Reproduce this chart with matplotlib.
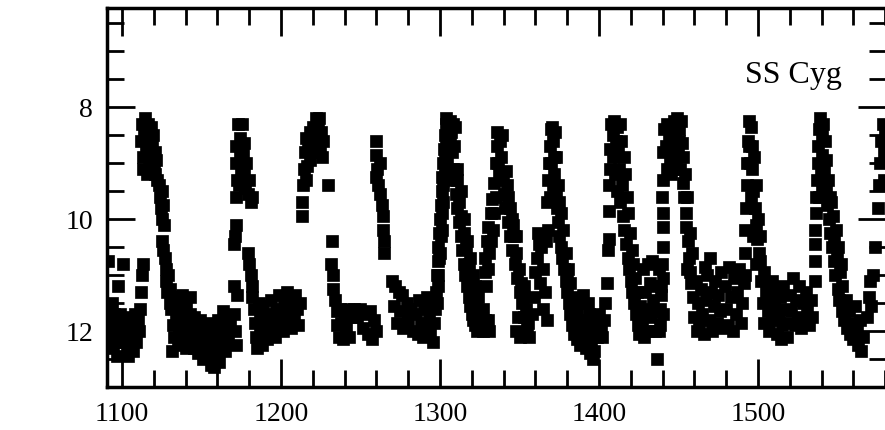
import matplotlib
matplotlib.use("Agg")
import matplotlib.pyplot as plt
from matplotlib.ticker import MultipleLocator

plt.rcParams["font.family"] = ["Liberation Serif", "DejaVu Serif"]

# SS Cyg light curve (JD - 2450000, visual mag)
low0 = [(1091, 10.75), (1091, 11.6), (1091.5, 12.0), (1092, 12.2), (1092.5, 11.8), (1093, 12.1),
        (1093.5, 11.5), (1094, 11.9), (1094.5, 12.3), (1095, 11.7), (1095.5, 12.0), (1096, 12.2),
        (1096.5, 11.85), (1097.5, 11.2), (1097, 12.45), (1098, 12.0), (1098.5, 11.7), (1099, 12.15),
        (1100, 11.9), (1100.6, 10.8), (1101, 12.2), (1101.5, 11.75), (1102, 12.05), (1103, 12.3),
        (1103.5, 11.9), (1104, 12.45), (1104.5, 12.1), (1105, 11.8), (1106, 12.2), (1106.5, 11.95),
        (1107, 12.35), (1108, 12.0), (1108.5, 11.7), (1109, 12.2), (1110, 11.8), (1113, 10.8)]

burst1 = [(1111, 12.0), (1111.5, 11.6), (1112, 11.3), (1112.5, 11.0),
          (1112, 8.6), (1112.5, 8.3), (1113, 8.9), (1113, 9.1), (1114, 8.5), (1114.5, 8.2),
          (1115, 8.7), (1115.5, 8.45), (1116, 9.2), (1116.5, 8.3), (1117, 8.9), (1117.5, 8.6),
          (1118, 8.35), (1118.5, 9.0), (1119, 8.7), (1119.5, 8.5), (1120, 9.05), (1120.5, 8.8),
          (1121, 9.2), (1121.5, 8.95), (1122, 9.3), (1123, 9.4), (1124, 9.6), (1124.5, 9.8),
          (1125, 9.5), (1125.5, 10.0), (1126, 9.75), (1126.5, 10.1), (1125, 10.4), (1126, 10.55),
          (1127, 10.7), (1127.5, 10.9), (1128, 11.1), (1128.5, 11.3), (1129, 11.0), (1130, 11.5),
          (1130.5, 11.25)]

low1 = [(1131, 11.6), (1131.5, 12.35), (1132, 11.9), (1133, 12.1), (1133.5, 11.4), (1134, 11.75),
        (1135, 12.2), (1135.5, 11.5), (1136, 11.95), (1137, 12.25), (1137.5, 11.35), (1138, 11.7),
        (1139, 12.05), (1140, 11.55), (1140.5, 12.3), (1141, 11.85), (1142, 12.1), (1142.5, 11.4),
        (1143, 11.7), (1144, 12.0), (1145, 12.3), (1145.5, 11.75), (1146, 12.15), (1147, 11.9),
        (1148, 12.4), (1148.5, 12.05), (1149, 11.8), (1150, 12.2), (1151, 12.5), (1151.5, 11.95),
        (1152, 12.3), (1153, 12.1), (1154, 12.45), (1154.5, 11.85), (1155, 12.2), (1156, 12.6),
        (1157, 12.35), (1157.5, 12.0), (1158, 12.65), (1159, 12.45), (1160, 12.2), (1160.5, 11.8),
        (1161, 12.55), (1162, 12.3), (1163, 12.1), (1163.5, 11.65), (1164, 11.9), (1165, 12.35),
        (1165.5, 12.05), (1166, 11.75), (1167, 12.2), (1168, 11.9), (1170.5, 11.7), (1171, 12.0),
        (1171.5, 12.25)]

burst2 = [(1170.5, 11.2), (1171, 10.3), (1170.5, 10.45), (1171.5, 9.0), (1171.5, 9.6), (1172, 8.7),
          (1172.5, 9.3), (1173, 8.3), (1173.5, 9.4), (1174, 8.9), (1174.5, 8.55), (1175, 9.1),
          (1175.5, 8.3), (1176, 8.8), (1176.5, 9.2), (1177, 8.65), (1177.5, 9.45), (1178, 9.0),
          (1179, 9.55), (1180, 9.3), (1181, 9.7), (1182, 9.6), (1172, 10.1), (1172.5, 11.35)]

low2 = [(1179, 10.6), (1180, 10.8), (1181, 11.0), (1181.5, 11.2), (1182, 11.4), (1183, 11.6),
        (1183.5, 11.85), (1184, 12.1), (1185, 12.3), (1186, 11.5), (1186.5, 12.0), (1187, 11.75),
        (1188, 12.25), (1189, 11.55), (1190, 11.9), (1191, 12.15), (1192, 11.7), (1193, 12.0),
        (1194, 11.45), (1195, 11.8), (1196, 12.1), (1197, 11.6), (1198, 11.9), (1199, 11.35),
        (1200, 11.7), (1201, 12.0), (1202, 11.5), (1203, 11.8), (1204, 11.3), (1205, 11.65),
        (1206, 11.95), (1207, 11.45), (1208, 11.75), (1209, 11.35), (1210, 11.6), (1211, 11.9),
        (1212, 11.5)]

burst3 = [(1213, 9.7), (1213.5, 9.95), (1214, 9.4), (1214.5, 9.1), (1215, 8.8), (1215.5, 9.3),
          (1216, 8.55), (1216.5, 9.05), (1217, 8.75), (1218, 8.45), (1218.5, 8.95), (1219, 8.6),
          (1220, 8.35), (1220.5, 8.8), (1221, 8.5), (1222, 8.2), (1222.5, 8.65), (1223, 8.4),
          (1224, 8.2), (1224.5, 8.7), (1225, 8.45), (1226, 8.9), (1226.5, 8.6), (1229.5, 9.4),
          (1232, 10.4), (1231.5, 10.8), (1232.5, 11.0), (1233, 11.25), (1234, 11.45), (1235, 11.65),
          (1235.5, 11.9), (1236.5, 12.1), (1237, 11.6), (1238, 11.85), (1239, 12.15), (1240, 11.7),
          (1241, 11.95), (1242, 11.6), (1243, 12.1), (1244, 11.75), (1246, 11.6), (1248, 11.75),
          (1250, 11.6), (1251.5, 11.95), (1253, 11.7), (1254.5, 12.05), (1256, 11.65), (1257, 12.15),
          (1258.5, 11.8), (1259.5, 12.0)]

burst4 = [(1259.5, 8.6), (1260, 8.85), (1260.5, 9.1), (1260, 9.25), (1261, 9.4), (1262, 9.0),
          (1262.5, 9.55), (1263.5, 9.75), (1264, 9.95), (1264, 10.2), (1264.5, 10.4), (1265, 10.6),
          (1270, 11.1), (1272, 11.2), (1274, 11.3), (1276, 11.35), (1271, 11.55), (1273, 11.85),
          (1275, 11.65), (1277, 11.95), (1279, 11.5), (1280, 11.8), (1282, 11.6), (1283, 12.0),
          (1285, 11.7), (1286, 12.05), (1287, 11.45), (1288, 11.85), (1289, 12.1), (1290, 11.6),
          (1291, 11.9), (1292, 11.4), (1293, 11.75), (1294, 12.0), (1295, 11.55), (1295.5, 12.2),
          (1296, 11.85)]

burst5 = [(1297, 11.6), (1297.5, 11.3), (1298, 11.0), (1298.5, 10.75), (1299, 10.5), (1299.5, 10.25),
          (1300, 10.0), (1300.5, 9.75), (1301, 9.5), (1301.5, 9.25), (1302, 9.0), (1302.5, 8.75),
          (1303, 8.5), (1303.5, 8.3), (1304, 8.2), (1298.5, 11.2), (1299.5, 10.7), (1300.5, 10.3),
          (1301, 9.9), (1302, 9.4), (1303, 8.9), (1304, 8.6), (1305, 8.35), (1306, 8.25),
          (1307, 8.45), (1308, 8.3), (1309.5, 8.35), (1305.5, 8.7), (1307.5, 8.8), (1308, 9.1),
          (1309, 9.3), (1310, 9.55), (1311, 9.8), (1312, 10.05), (1313, 10.3), (1314, 10.55),
          (1315, 10.8), (1316, 11.0), (1317, 11.2), (1318, 11.4), (1319, 11.55), (1320, 11.7),
          (1321, 11.8), (1322, 11.9), (1323.5, 12.0), (1325, 11.95), (1327, 12.0), (1329, 11.95),
          (1331, 12.0), (1310.5, 9.3), (1312, 9.7), (1313.5, 9.95), (1315, 10.25), (1316.5, 10.5),
          (1318, 10.8), (1319.5, 11.05), (1321, 11.3), (1322.5, 11.5), (1324, 11.65), (1325.5, 11.75),
          (1327, 11.6), (1328.5, 11.8), (1298, 11.5), (1299, 11.0), (1300, 10.6), (1301, 10.2),
          (1302, 9.7), (1303, 9.2), (1304.5, 8.9), (1306, 8.6), (1309, 8.7), (1311, 9.1),
          (1313, 9.5), (1315, 10.0), (1317, 10.4), (1319, 10.7), (1320.5, 11.0), (1322, 11.2),
          (1324, 11.4), (1326, 11.9), (1330, 11.8)]

burst6 = [(1328, 10.95), (1328.5, 10.7), (1329, 11.2), (1329.5, 10.4), (1330.5, 10.15), (1331, 10.6),
          (1332, 9.9), (1333, 9.65), (1333.5, 10.2), (1334, 9.35), (1335, 9.0), (1335.5, 9.6),
          (1336, 8.7), (1336, 8.45), (1337, 9.2), (1338, 8.6), (1338.5, 8.9), (1339.5, 9.3),
          (1340, 9.55), (1341, 9.8), (1341.5, 9.15), (1342.5, 10.05), (1343, 9.6), (1344, 10.3),
          (1345, 10.0), (1345.5, 10.55), (1346.5, 10.3), (1347, 10.8), (1348, 10.6), (1348.5, 11.05),
          (1349.5, 10.9), (1350, 11.3), (1351, 11.15), (1351.5, 11.5), (1352.5, 11.4), (1353, 11.75),
          (1354, 11.6), (1354.5, 11.95), (1355.5, 11.85), (1347.5, 12.0), (1349, 11.75), (1350.5, 12.1),
          (1352, 12.05), (1356, 12.1), (1330, 10.9), (1332, 10.4), (1334, 9.9), (1336.5, 9.0),
          (1339, 8.5), (1342, 9.4), (1344, 9.8), (1346, 10.1), (1348, 10.3), (1353, 11.2)]

burst7 = [(1358, 11.7), (1359, 11.4), (1360, 10.95), (1361, 10.7), (1361.5, 10.25), (1362, 10.45),
          (1363, 11.15), (1363.5, 10.5), (1364.5, 11.6), (1365, 10.9), (1366, 11.3), (1366.5, 10.4),
          (1367, 11.8), (1367.5, 9.7), (1368, 9.3), (1368.5, 9.0), (1369, 8.7), (1369.5, 8.4),
          (1370.5, 8.35), (1371, 8.6), (1371.5, 8.9), (1372, 9.2), (1372.5, 8.45), (1373, 9.5),
          (1373.5, 9.8), (1374, 10.05), (1375, 10.3), (1376, 10.5), (1377, 10.7), (1378, 10.9),
          (1379, 11.1), (1380, 11.3), (1381, 11.5), (1382, 11.7), (1383, 11.9), (1384, 12.05),
          (1385, 11.8), (1386, 12.15), (1387, 11.95), (1388, 12.25), (1389, 11.5), (1389.5, 12.1),
          (1390, 11.35), (1391, 11.8), (1392, 12.3), (1393, 12.0), (1394, 11.7), (1395, 12.2),
          (1396, 12.5), (1397, 12.35), (1398, 11.9), (1399, 12.1), (1400, 11.7), (1401, 12.0),
          (1374.5, 9.4), (1376, 9.9), (1377.5, 10.2), (1379, 10.6), (1380.5, 10.9), (1382, 11.15),
          (1383.5, 11.4), (1385, 11.55), (1368, 10.2), (1369, 9.6), (1370, 9.0), (1371, 9.4),
          (1373, 8.9), (1375, 9.7), (1380, 11.0), (1386, 11.6), (1388, 11.8), (1391, 12.2),
          (1393, 11.5), (1394.5, 12.4)]

burst8 = [(1402, 12.1), (1403, 11.8), (1404, 11.5), (1405, 11.15), (1405.5, 10.55), (1406, 10.35),
          (1406, 9.85), (1406.5, 9.4), (1407, 9.1), (1407, 8.75), (1407.5, 8.3), (1408.5, 8.5),
          (1409, 8.9), (1409.5, 8.25), (1410, 9.2), (1410.5, 8.6), (1411, 8.35), (1411.5, 9.5),
          (1412, 8.8), (1412.5, 9.1), (1413, 8.3), (1413.5, 9.7), (1414, 8.6), (1414.5, 9.4),
          (1415, 9.95), (1415.5, 8.9), (1416, 10.2), (1416.5, 9.2), (1417, 10.45), (1417.5, 9.6),
          (1418, 10.7), (1418.5, 9.9), (1419, 10.9), (1419.5, 10.25), (1420, 11.1), (1420.5, 10.55),
          (1421, 11.3), (1421.5, 10.8), (1422, 11.5), (1422.5, 11.05), (1423, 11.7), (1424, 11.3),
          (1424.5, 11.9), (1425, 12.05), (1426, 11.55), (1427, 11.8), (1427.5, 10.9), (1428, 12.1),
          (1429, 11.3), (1430, 11.6), (1430.5, 10.8), (1431, 12.0), (1432, 11.15), (1433, 11.75),
          (1433.5, 10.75), (1434, 11.45), (1435, 12.0), (1436, 11.2), (1436.5, 12.5), (1437, 11.65),
          (1438, 10.9), (1438.5, 11.9), (1439, 11.35), (1440, 11.05), (1440.5, 11.7)]

burst9 = [(1438, 12.0), (1438.5, 11.6), (1439, 11.2), (1439.5, 10.8), (1440, 10.5), (1440, 10.15),
          (1440, 9.9), (1439.5, 9.6), (1440, 9.3), (1440.5, 8.8), (1441, 8.4), (1442, 8.7),
          (1442.5, 9.1), (1443, 8.3), (1444, 8.55), (1444.5, 8.95), (1445.5, 8.35), (1446, 8.75),
          (1447, 8.25), (1447.5, 9.0), (1448, 8.5), (1449, 8.2), (1449.5, 8.8), (1450.5, 8.4),
          (1451, 9.1), (1451.5, 8.25), (1452, 8.65), (1452.5, 9.35), (1453, 8.9), (1453.5, 9.6),
          (1454, 9.2), (1454.5, 9.9), (1455, 10.15), (1455.5, 9.6), (1456, 10.4), (1456.5, 10.7),
          (1457, 10.95), (1457.5, 10.25), (1458, 11.15), (1458.5, 10.6), (1445, 9.2), (1448.5, 9.1),
          (1450, 8.6), (1455.5, 10.9)]

low9 = [(1459, 11.4), (1460, 11.75), (1461, 11.1), (1461.5, 12.0), (1462.5, 11.5), (1463, 11.9),
        (1464, 11.25), (1465, 11.7), (1466, 12.05), (1466.5, 10.85), (1467, 11.45), (1468, 11.0),
        (1469, 11.8), (1470, 10.7), (1470.5, 11.3), (1471, 12.0), (1472, 11.55), (1473, 11.1),
        (1474, 11.85), (1475, 11.35), (1476, 11.65), (1477, 10.95), (1478, 11.95), (1479, 11.2),
        (1480, 11.6), (1481, 11.9), (1482, 10.85), (1483, 11.4), (1484, 12.0), (1485, 11.05),
        (1486, 11.7), (1487, 11.3), (1488, 10.9), (1489, 11.85), (1490, 11.5), (1491, 11.15)]

burst10 = [(1491.5, 11.0), (1492, 10.6), (1492, 10.2), (1492.5, 9.8), (1493, 9.4), (1493, 9.0),
           (1493.5, 8.6), (1494, 8.25), (1495.5, 8.35), (1496, 8.7), (1496.5, 9.1), (1497, 9.5),
           (1497.5, 8.9), (1498, 9.8), (1498.5, 10.1), (1499, 9.4), (1499.5, 10.35), (1500, 10.0),
           (1500.5, 10.6), (1501, 10.3), (1501.5, 10.75), (1494.5, 8.7), (1495, 9.0), (1495.5, 9.6),
           (1497, 10.3), (1499, 10.8)]

low10 = [(1502, 11.1), (1503, 11.5), (1503.5, 10.95), (1504, 11.85), (1505, 11.3), (1506, 11.65),
         (1507, 12.0), (1508, 11.4), (1508.5, 11.1), (1509, 11.8), (1510, 11.55), (1511, 11.25),
         (1512, 12.05), (1513, 11.7), (1514, 11.4), (1514.5, 12.15), (1515, 11.9), (1516, 11.2),
         (1517, 11.6), (1518, 12.1), (1519, 11.85), (1520, 11.35), (1521, 11.65), (1522, 11.05),
         (1523, 11.9), (1524, 11.45), (1525, 11.75), (1526, 11.2), (1527, 11.95), (1528, 11.5),
         (1529, 11.8), (1530, 11.3), (1531, 11.6), (1532, 11.9), (1533, 11.45), (1534, 11.75)]

burst11 = [(1535.5, 11.1), (1535.5, 10.75), (1536, 10.45), (1536, 10.2), (1536.5, 9.9), (1536.5, 9.6),
           (1537, 9.3), (1537.5, 9.0), (1538, 8.7), (1538.5, 8.4), (1539, 8.2), (1540, 8.5),
           (1540.5, 8.85), (1541, 8.3), (1541.5, 9.15), (1542, 8.6), (1542.5, 9.45), (1543, 8.95),
           (1543.5, 9.75), (1544, 9.3), (1544.5, 10.0), (1545, 9.6), (1545.5, 10.25), (1546.5, 10.5),
           (1547, 9.95), (1547.5, 10.75), (1548, 10.35), (1548.5, 11.0), (1549.5, 10.65), (1550, 11.25),
           (1551, 11.45), (1551.5, 10.95), (1552.5, 11.65), (1553, 11.2), (1554, 11.8), (1555, 11.45),
           (1556, 11.95), (1557, 11.65), (1558, 12.05), (1559, 11.85), (1560, 12.15), (1561, 11.55),
           (1562, 12.0), (1563, 12.25), (1564, 11.8), (1565, 12.35), (1566, 12.1), (1539.5, 9.1),
           (1538.5, 9.6), (1540.5, 9.4), (1546, 9.7), (1549, 10.2), (1550.5, 10.5), (1552, 10.8)]

burst12 = [(1568.5, 11.75), (1569.5, 11.4), (1570.5, 11.1), (1571, 11.55), (1572, 11.0), (1573.5, 10.5),
           (1575.5, 9.8), (1576, 9.4), (1577, 9.0), (1577.5, 8.6), (1578.5, 8.3), (1579, 8.8),
           (1579.5, 9.3), (1580, 8.5)]

segments = [low0, burst1, low1, burst2, low2, burst3, burst4, burst5, burst6,
            burst7, burst8, burst9, low9, burst10, low10, burst11, burst12]

fig = plt.figure(figsize=(8.85, 4.3), dpi=100)
ax = fig.add_axes([0.1209, 0.1, 0.8803, 0.8814])

for seg in segments:
    jd = [p[0] for p in seg]
    mag = [p[1] for p in seg]
    ax.plot(jd, mag, "s", color="black", ms=8, mec="black", mew=0.5)

ax.set_xlim(1090.6, 1580.5)
ax.set_ylim(13.0, 6.23)

ax.xaxis.set_major_locator(MultipleLocator(100))
ax.xaxis.set_minor_locator(MultipleLocator(20))
ax.yaxis.set_minor_locator(MultipleLocator(0.5))
ax.set_yticks([8, 10, 12])

ax.tick_params(which="both", direction="in", top=True, right=True, width=2, labelsize=20)
ax.tick_params(which="major", length=20)
ax.tick_params(which="minor", length=12)
ax.tick_params(axis="x", pad=11)
ax.tick_params(axis="y", pad=10)
for sp in ax.spines.values():
    sp.set_linewidth(2.5)

ax.text(0.943, 0.823, "SS Cyg", transform=ax.transAxes, ha="right", va="center", fontsize=23)

fig.savefig("out.png", dpi=100)
